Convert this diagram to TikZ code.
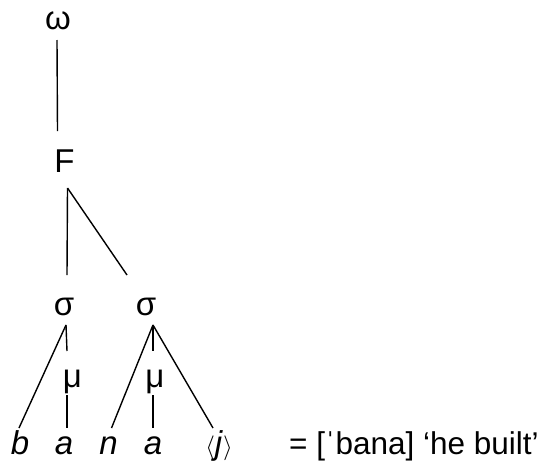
\documentclass[tikz,border=0pt]{standalone}
\usepackage{fontspec}
\setmainfont{Liberation Sans}
\begin{document}
\begin{tikzpicture}[x=1pt,y=-1pt,
  lab/.style={anchor=base,inner sep=0pt,font=\fontsize{33}{40}\selectfont},
  edge/.style={line width=1.4pt}]
\useasboundingbox (0,0) rectangle (544,461);
\node[lab] (om) at (58,29) {ω};
\node[lab] (F) at (64.5,172) {F};
\node[lab] (s1) at (64,315) {σ};
\node[lab] (s2) at (146,315) {σ};
\node[lab] (m1) at (72.5,387) {μ};
\node[lab] (m2) at (155,387) {μ};
\node[lab] (b) at (20,454) {\itshape b};
\node[lab] (a1) at (64,454) {\itshape a};
\node[lab] (n) at (108.5,454) {\itshape n};
\node[lab] (a2) at (153,454) {\itshape a};
\node[lab] (j) at (219,454) {$\langle$\textit{j}$\rangle$};
\node[lab,anchor=base west,font=\fontsize{31.5}{38}\selectfont] (gl) at (289,454) {= [ˈbana] ‘he built’};
\draw[edge] ([shift={(-1,11)}]om.base) -- ([shift={(-7,-41)}]F.base);
\draw[edge] ([shift={(3,16)}]F.base) -- ([shift={(3,-40)}]s1.base);
\draw[edge] ([shift={(3,16)}]F.base) -- ([shift={(-19,-40)}]s2.base);
\draw[edge] ([shift={(2,10)}]s1.base) -- ([shift={(-1,-26)}]b.base);
\draw[edge] ([shift={(2,10)}]s1.base) -- ([shift={(-5.5,-36)}]m1.base);
\draw[edge] ([shift={(-5.5,8)}]m1.base) -- ([shift={(3,-26)}]a1.base);
\draw[edge] ([shift={(7,10)}]s2.base) -- ([shift={(3,-26)}]n.base);
\draw[edge] ([shift={(7,10)}]s2.base) -- ([shift={(-2,-36)}]m2.base);
\draw[edge] ([shift={(-2,8)}]m2.base) -- ([shift={(0,-26)}]a2.base);
\draw[edge] ([shift={(7,10)}]s2.base) -- ([shift={(-6,-26)}]j.base);
\end{tikzpicture}
\end{document}
